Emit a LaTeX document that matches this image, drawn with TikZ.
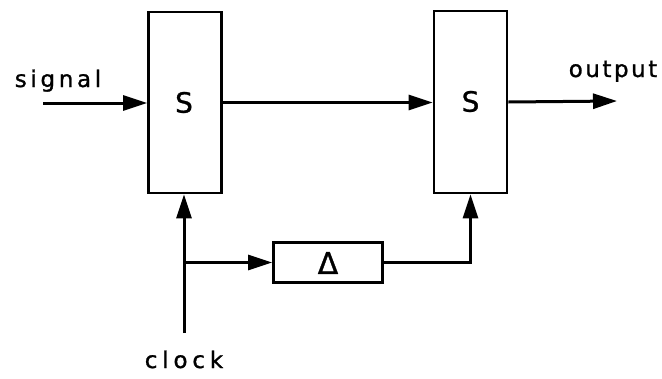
\documentclass[tikz,border=0pt]{standalone}
\usepackage{fontspec}
\setmainfont{DejaVu Sans}[FakeBold=1]
\newfontfamily\sigfont[LetterSpace=16,FakeBold=1]{DejaVu Sans}
\newfontfamily\outfont[LetterSpace=11,FakeBold=1]{DejaVu Sans}
\newfontfamily\clkfont[LetterSpace=21,FakeBold=1]{DejaVu Sans}
\usetikzlibrary{arrows.meta}
\begin{document}
\begin{tikzpicture}[x=1pt,y=-1pt,
  blk/.style={draw,line width=2.8pt,rectangle,inner sep=0pt},
  conn/.style={line width=3pt},
  arr/.style={conn,-{Triangle[length=24pt,width=15pt]}},
  lbl/.style={anchor=base,inner sep=0pt},
  sym/.style={font=\fontsize{28}{32}\selectfont,inner sep=0pt}]
\useasboundingbox (0,0) rectangle (662,378);
\node[blk,minimum width=73pt,minimum height=181pt] (b1) at (185,102.5) {};
\node[blk,minimum width=73pt,minimum height=182pt] (b2) at (470.5,102) {};
\node[blk,minimum width=109pt,minimum height=40pt] (d) at (328,262.5) {};
\node[sym] (s1) at (184,102.5) {S};
\node[sym] (s2) at (470.5,101.5) {S};
\node[font=\fontsize{30}{34}\selectfont,inner sep=0pt] (dl) at (328,263) {Δ};
\node[lbl,font=\sigfont\fontsize{23}{27}\selectfont] (tsig) at (58,87) {signal};
\node[lbl,font=\outfont\fontsize{23}{27}\selectfont] (tout) at (613,77) {output};
\node[lbl,font=\clkfont\fontsize{23}{27}\selectfont] (tclk) at (184,368) {clock};
\coordinate (sin) at (43,103);
\coordinate (sout) at (617,101);
\coordinate (clk) at (184,333);
\coordinate (j) at (184,262.5);
\draw[arr] (sin) -- (sin -| b1.west);
\draw[arr] (b1.east) -- (b1.east -| b2.west);
\draw[arr] (b2.east) -- (sout);
\draw[arr] (clk) -- (clk |- b1.south);
\draw[arr] (j) -- (d.west);
\draw[arr] (d.east) -| (b2.south);
\end{tikzpicture}
\end{document}
